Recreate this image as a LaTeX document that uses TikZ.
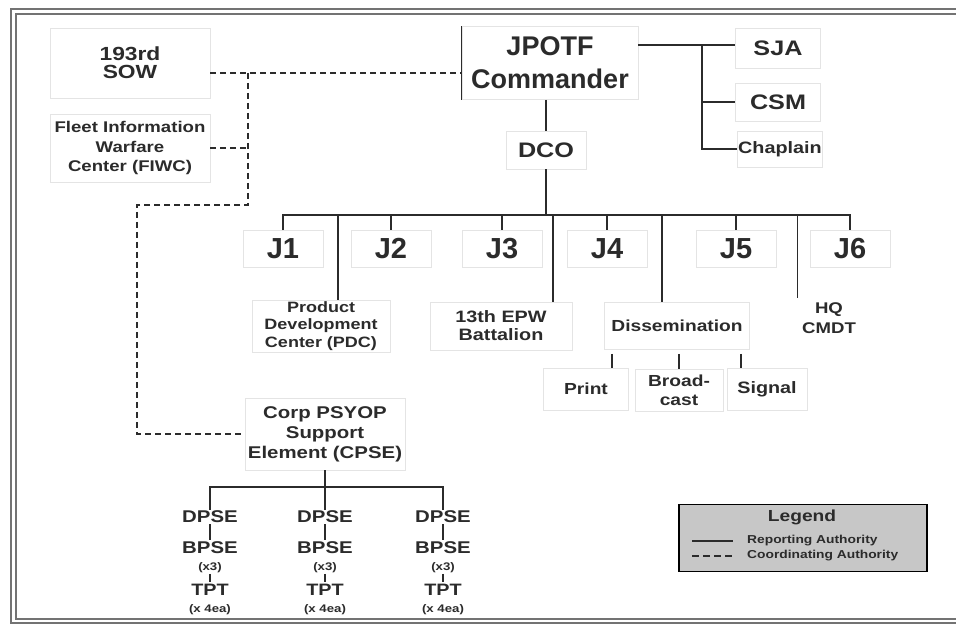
\documentclass[tikz,border=0pt]{standalone}
\usepackage{fontspec}
\setmainfont{Liberation Sans}
\newfontfamily\wf{Liberation Sans}[FakeStretch=1.2]
\newcommand\fsz[2]{\fontsize{#1}{#2}\selectfont}
\usetikzlibrary{calc}
\definecolor{ink}{HTML}{2B2B2B}
\definecolor{boxline}{HTML}{E4E4E4}
\begin{document}
\begin{tikzpicture}[x=1pt,y=-1pt,
  orgbox/.style={draw=boxline, line width=0.9pt, fill=white, inner sep=1pt, align=center, text=ink},
  plain/.style={inner sep=1pt, align=center, text=ink},
  rep/.style={draw=ink, line width=1.6pt},
  coordl/.style={draw=ink, line width=1.5pt, dash pattern=on 6pt off 4pt},
  frameline/.style={draw=black!55, line width=1.1pt}]
\useasboundingbox (0,0) rectangle (956,631);
\fill[white] (0,0) rectangle (956,631);
% frame
\draw[frameline] (956,9) -- (11,9) -- (11,623) -- (956,623);
\draw[frameline] (956,14) -- (16,14) -- (16,619) -- (956,619);

% top-left coordination units
\node[orgbox, minimum width=160, minimum height=70, font=\wf\bfseries\fsz{19}{18}] (sow) at (130,63) {193rd\\SOW};
\node[orgbox, minimum width=160, minimum height=68, font=\wf\bfseries\fsz{15.5}{19.5}] (fiwc) at (130,148) {Fleet Information\\Warfare\\Center (FIWC)};

% command group
\node[orgbox, minimum width=176, minimum height=73, font=\bfseries\fsz{27}{33}] (cmd) at (550,63) {JPOTF\\Commander};
\node[orgbox, minimum width=85, minimum height=40, font=\wf\bfseries\fsz{21}{24}] (sja) at (778,48) {SJA};
\node[orgbox, minimum width=85, minimum height=38, font=\wf\bfseries\fsz{21}{24}] (csm) at (778,102) {CSM};
\node[orgbox, minimum width=85, minimum height=36, font=\wf\bfseries\fsz{16.5}{20}] (chap) at (780,149) {Chaplain};
\node[orgbox, minimum width=80, minimum height=38, font=\wf\bfseries\fsz{21}{24}] (dco) at (546,150) {DCO};

% staff sections
\foreach \n/\x in {1/283,2/391,3/502,4/607,5/736,6/850}{
  \node[orgbox, minimum width=80, minimum height=37, font=\bfseries\fsz{29}{32}] (j\n) at (\x,249) {J\n};
}

% subordinate units
\node[orgbox, minimum width=138, minimum height=52, font=\wf\bfseries\fsz{15}{17.5}] (pdc) at (321,326) {Product\\Development\\Center (PDC)};
\node[orgbox, minimum width=142, minimum height=48, font=\wf\bfseries\fsz{16.5}{18}] (epw) at (501,326) {13th EPW\\Battalion};
\node[orgbox, minimum width=145, minimum height=47, font=\wf\bfseries\fsz{16}{18}] (diss) at (677,326) {Dissemination};
\node[orgbox, draw=none, minimum width=70, minimum height=40, font=\wf\bfseries\fsz{15.5}{20}] (hq) at (829,318) {HQ\\CMDT};
\node[orgbox, minimum width=85, minimum height=42, font=\wf\bfseries\fsz{16}{19}] (print) at (586,389) {Print};
\node[orgbox, minimum width=88, minimum height=42, font=\wf\bfseries\fsz{16}{19}] (broad) at (679,390) {Broad-\\cast};
\node[orgbox, minimum width=80, minimum height=42, font=\wf\bfseries\fsz{16.5}{19}] (signal) at (767,389) {Signal};

% CPSE
\node[orgbox, minimum width=160, minimum height=72, font=\wf\bfseries\fsz{17}{20}] (cpse) at (325,434) {Corp PSYOP\\Support\\Element (CPSE)};
\foreach \n/\x in {1/210,2/325,3/443}{
  \node[plain, font=\wf\bfseries\fsz{17}{19}] (d\n) at (\x,517) {DPSE};
  \node[plain, font=\wf\bfseries\fsz{17}{17}] (b\n) at (\x,557) {BPSE\\{\fsz{11}{12}(x3)}};
  \node[plain, font=\wf\bfseries\fsz{16.5}{17}] (t\n) at (\x,599) {TPT\\{\fsz{11}{12}(x 4ea)}};
}

% reporting connectors
\draw[rep] (cmd.north west) -- (cmd.south west);
\coordinate (rb) at (702,45);
\draw[rep] (cmd.east |- rb) -- (sja.west |- rb);
\draw[rep] (rb) |- (chap.west);
\draw[rep] (rb |- csm.west) -- (csm.west);
\draw[rep] (cmd.south -| dco.north) -- (dco.north);
\coordinate (bus) at (546,215);
\draw[rep] (dco.south) -- (bus);
\draw[rep] (j1.north) -- (j1.north |- bus) -- (j6.north |- bus) -- (j6.north);
\foreach \n in {2,3,4,5}{\draw[rep] (j\n.north |- bus) -- (j\n.north);}
\draw[rep] ([xshift=17pt]pdc.north |- bus) -- ([xshift=17pt]pdc.north);
\draw[rep] ([xshift=52pt]epw.north |- bus) -- ([xshift=52pt]epw.north);
\draw[rep] ([xshift=-15pt]diss.north |- bus) -- ([xshift=-15pt]diss.north);
\draw[rep] ([xshift=4pt]hq.north west |- bus) -- ([xshift=4pt]hq.north west);
\draw[rep] ([xshift=26pt,yshift=-4pt]diss.south -| print.north) -- ([xshift=26pt]print.north);
\draw[rep] ([yshift=-4pt]diss.south -| broad.north) -- (broad.north);
\draw[rep] ([xshift=-26pt,yshift=-4pt]diss.south -| signal.north) -- ([xshift=-26pt]signal.north);

\coordinate (cb) at (325,487);
\draw[rep] (cpse.south) -- (d2.north);
\draw[rep] (d1.north) -- (d1.north |- cb) -- (d3.north |- cb) -- (d3.north);
\foreach \n in {1,2,3}{
  \draw[rep, line width=1.2pt] (d\n.south) -- (b\n.north);
  \draw[rep, line width=1.2pt] (b\n.south) -- (t\n.north);
}

% coordinating connectors
\coordinate (dj) at (248,73);
\coordinate (dl) at (137,205);
\draw[coordl] (sow.east |- dj) -- (cmd.west |- dj);
\draw[coordl] (fiwc.east) -- (fiwc.east -| dj);
\draw[coordl] (dj) |- (dl) |- (cpse.west);

% legend
\node[draw=black, line width=1.6pt, fill=black!22, minimum width=248, minimum height=67] (leg) at (803,538) {};
\node[plain, font=\wf\bfseries\fsz{16}{18}] (legt) at (802,517) {Legend};
\coordinate (la) at (692,541);
\coordinate (lb) at (733,541);
\coordinate (lc) at (692,556);
\coordinate (ld) at (733,556);
\draw[rep] (la) -- (lb);
\draw[coordl, dash pattern=on 7pt off 4pt] (lc) -- (ld);
\node[plain, anchor=west, font=\wf\bfseries\fsz{11.5}{13}] (lrt) at (746,541) {Reporting Authority};
\node[plain, anchor=west, font=\wf\bfseries\fsz{11.5}{13}] (lct) at (746,556) {Coordinating Authority};
\end{tikzpicture}
\end{document}
